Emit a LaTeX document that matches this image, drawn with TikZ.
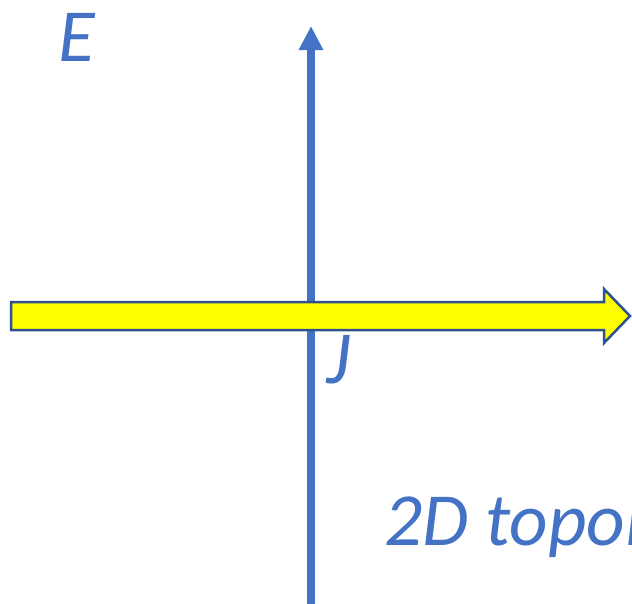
\documentclass[tikz,border=0pt]{standalone}
\usepackage{fontspec}
\setmainfont{Carlito}
\usetikzlibrary{arrows.meta}
\definecolor{axisblue}{HTML}{4472C4}
\definecolor{edgeblue}{HTML}{2F528F}
\definecolor{arrowyellow}{HTML}{FFFF00}
\tikzset{
  lbl/.style={text=axisblue, font=\fontsize{75}{75}\selectfont\itshape, inner sep=0pt, anchor=base west},
  axis/.style={draw=axisblue, line width=8.3pt, -{Triangle[width=23pt,length=24pt]}},
  bigarrow/.style={fill=arrowyellow, draw=edgeblue, line width=2.5pt, line join=miter}
}
\begin{document}
\begin{tikzpicture}[x=1pt,y=-1pt]
\useasboundingbox (0,0) rectangle (632,603);
\clip (0,0) rectangle (632,603);
\coordinate (vbot) at (311,606);
\coordinate (vtop) at (311,26);
\draw[axis] (vbot) -- (vtop);
\draw[bigarrow] (11,302) -- (604,302) -- (604,289) -- (630,316) -- (604,343) -- (604,330) -- (11,330) -- cycle;
\node[lbl] (E) at (58,61) {E};
\node[lbl] (J) at (326,383) {J};
\node[lbl] (topo) at (384,545) {2D topol};
\end{tikzpicture}
\end{document}
